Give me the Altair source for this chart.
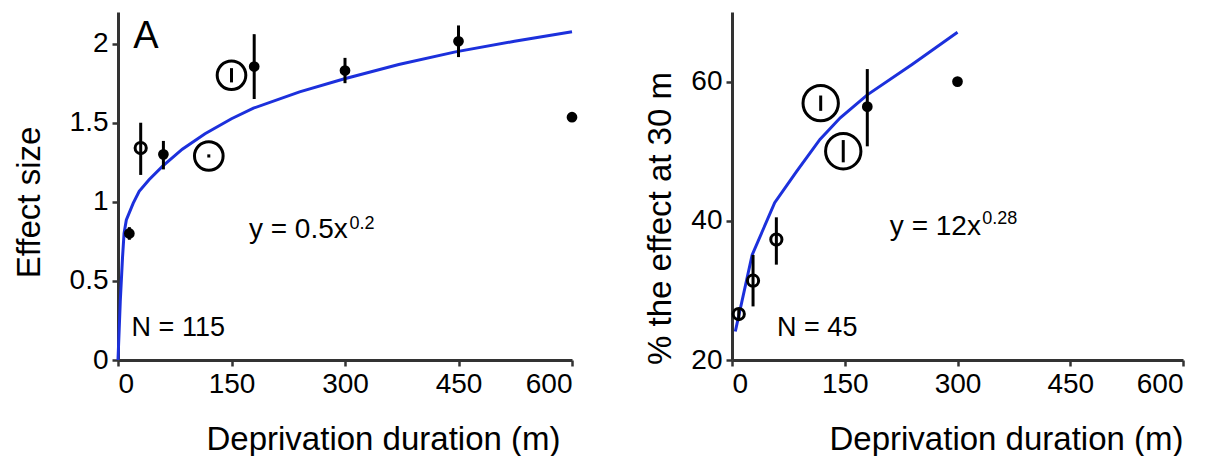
import altair as alt
import pandas as pd

FONT = "Liberation Sans"

# ---------------- data: left panel (Effect size) ----------------
left_x = [15, 30, 60, 120, 150, 180, 300, 450, 600]
left_y = [0.80, 1.34, 1.30, 1.29, 1.80, 1.855, 1.83, 2.015, 1.535]
left_lo = [0.76, 1.17, 1.205, 1.28, 1.755, 1.65, 1.75, 1.915, 1.535]
left_hi = [0.84, 1.50, 1.385, 1.30, 1.845, 2.06, 1.91, 2.115, 1.535]
left_kind = ["filled", "open", "filled", "big", "big", "filled", "filled", "filled", "filled"]

left_fit_x = [0, 3, 6, 8, 11, 20, 28, 41, 59, 85, 115, 150, 179, 240, 297, 371, 446, 524, 600]
left_fit_y = [0, 0.37, 0.65, 0.80, 0.885, 0.99, 1.066, 1.14, 1.226, 1.333, 1.43, 1.525,
              1.592, 1.695, 1.775, 1.868, 1.948, 2.015, 2.075]

# ---------------- data: right panel (% of effect at 30 m) ----------------
right_x = [9, 28, 59, 118, 148, 180, 300]
right_y = [26.6, 31.4, 37.3, 56.9, 50.0, 56.4, 60.0]
right_lo = [25.8, 27.7, 33.7, 55.8, 48.4, 50.7, 60.0]
right_hi = [27.4, 35.1, 40.5, 58.0, 51.6, 61.8, 60.0]
right_kind = ["open", "open", "open", "big", "big", "filled", "filled"]

right_fit_x = [4.4, 26.8, 56.8, 86, 117, 144, 180, 240, 300]
right_fit_y = [24.1, 35.1, 42.6, 47.1, 51.7, 54.8, 58.1, 62.5, 67.1]

x_ticks = [0, 150, 300, 450, 600]
left_y_ticks = [0, 0.5, 1, 1.5, 2]
right_y_ticks = [20, 40, 60]

# annotation texts (data positions)
left_texts = [
    {"x": 20, "y": 1.97, "t": "A", "s": 38},
    {"x": 173, "y": 0.769, "t": "y = 0.5x", "s": 28},
    {"x": 18, "y": 0.15, "t": "N = 115", "s": 27},
]
left_sup = [{"x": 306, "y": 0.83, "t": "0.2"}]
right_texts = [
    {"x": 210, "y": 38.03, "t": "y = 12x", "s": 28},
    {"x": 60, "y": 23.5, "t": "N = 45", "s": 27},
]
right_sup = [{"x": 333, "y": 39.5, "t": "0.28"}]

BLUE = "#1c30dc"


def panel(px, py, plo, phi, kind, fx, fy, texts, sups, ydom, yticks, ytitle,
          w, h, big_size, ytitle_y, ytitle_x, xtitle_x):
    pts = pd.DataFrame({"x": px, "y": py, "lo": plo, "hi": phi, "kind": kind})
    fit = pd.DataFrame({"x": fx, "y": fy})
    txt = pd.DataFrame(texts)
    sup = pd.DataFrame(sups)

    xscale = alt.Scale(domain=[0, 600], nice=False)
    yscale = alt.Scale(domain=ydom, nice=False, zero=False)
    xaxis = alt.Axis(values=x_ticks, title="Deprivation duration (m)", titleX=xtitle_x,
                     titleY=89, titleAlign="right", titleBaseline="alphabetic")
    yaxis = alt.Axis(values=yticks, title=ytitle, format="~g", titleY=ytitle_y,
                     titleAlign="center", titleBaseline="alphabetic", titleX=ytitle_x)

    base_x = alt.X("x:Q", scale=xscale, axis=xaxis)
    base_y = alt.Y("y:Q", scale=yscale, axis=yaxis)

    curve = alt.Chart(fit).mark_line(color=BLUE, strokeWidth=3).encode(x=base_x, y=base_y)

    bars = alt.Chart(pts).mark_rule(color="black", strokeWidth=3).encode(
        x="x:Q", y="lo:Q", y2="hi:Q")

    filled = alt.Chart(pts).transform_filter(alt.datum.kind == "filled").mark_circle(
        color="black", size=115, opacity=1).encode(x="x:Q", y="y:Q")
    opened = alt.Chart(pts).transform_filter(alt.datum.kind == "open").mark_point(
        shape="circle", filled=False, color="black", strokeWidth=3, size=125,
        opacity=1).encode(x="x:Q", y="y:Q")
    big = alt.Chart(pts).transform_filter(alt.datum.kind == "big").mark_point(
        shape="circle", filled=False, color="black", strokeWidth=3, size=big_size,
        opacity=1).encode(x="x:Q", y="y:Q")

    labels = alt.Chart(txt).mark_text(align="left", baseline="alphabetic", font=FONT,
                                      color="black").encode(
        x="x:Q", y="y:Q", text="t:N", size=alt.Size("s:Q", scale=None, legend=None))
    suplab = alt.Chart(sup).mark_text(align="left", baseline="alphabetic", font=FONT,
                                      fontSize=18, color="black").encode(
        x="x:Q", y="y:Q", text="t:N")

    return alt.layer(curve, bars, filled, opened, big, labels, suplab).properties(
        width=w, height=h)


left = panel(left_x, left_y, left_lo, left_hi, left_kind, left_fit_x, left_fit_y,
             left_texts, left_sup, [0, 2.2], left_y_ticks, "Effect size",
             454, 348, 820, 190, -79, 442)
right = panel(right_x, right_y, right_lo, right_hi, right_kind, right_fit_x, right_fit_y,
              right_texts, right_sup, [20, 70], right_y_ticks, "% the effect at 30 m",
              451, 348, 1250, 206, -62, 451)

chart = alt.hconcat(left, right, spacing=66).properties(
    padding={"left": 5, "top": 4, "right": 5, "bottom": 0}
).configure_view(stroke=None).configure_axis(
    grid=False, domainColor="#333333", domainWidth=3, tickColor="#333333", tickWidth=2.5,
    tickSize=6, labelFont=FONT, labelFontSize=28, labelColor="black", labelPadding=4,
    titleFont=FONT, titleFontSize=33, titleFontWeight="normal", titleColor="black",
)

chart.save("out.html", embed_options={"renderer": "svg", "actions": False})
